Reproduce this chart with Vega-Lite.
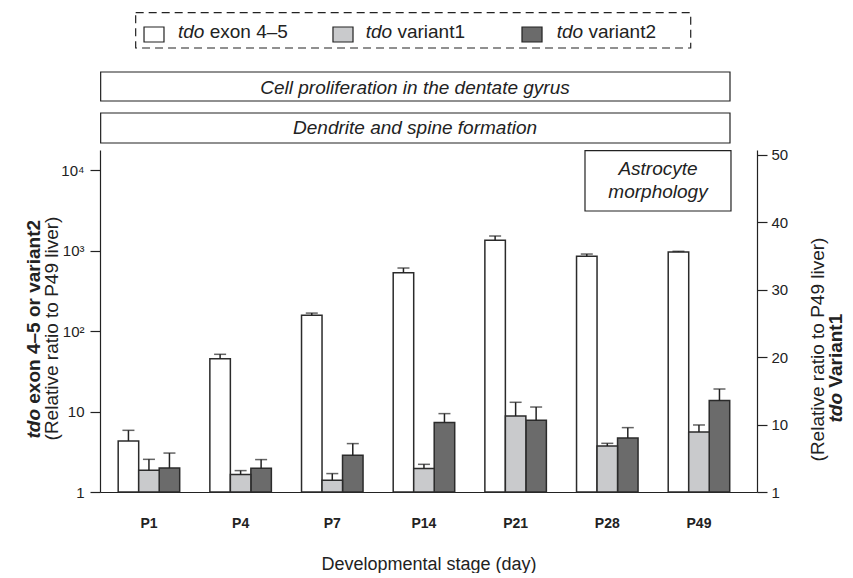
{
  "$schema": "https://vega.github.io/schema/vega-lite/v6.json",
  "autosize": {"type": "pad"},
  "padding": {"left": 23, "top": 10, "right": 0, "bottom": 0},
  "config": {"view": {"stroke": null}, "font": "Liberation Sans"},
  "spacing": 5,
  "bounds": "flush",
  "datasets": {
    "expr": [
      {"stage": "P1", "series": "tdo exon 4–5", "value": 4.31, "upper": 5.85},
      {"stage": "P1", "series": "tdo variant1", "value": 3.21, "upper": 4.84},
      {"stage": "P1", "series": "tdo variant2", "value": 1.99, "upper": 3.05},
      {"stage": "P4", "series": "tdo exon 4–5", "value": 45.6, "upper": 51.6},
      {"stage": "P4", "series": "tdo variant1", "value": 2.58, "upper": 3.17},
      {"stage": "P4", "series": "tdo variant2", "value": 1.97, "upper": 2.53},
      {"stage": "P7", "series": "tdo exon 4–5", "value": 158, "upper": 168},
      {"stage": "P7", "series": "tdo variant1", "value": 1.73, "upper": 2.73},
      {"stage": "P7", "series": "tdo variant2", "value": 2.86, "upper": 4.0},
      {"stage": "P14", "series": "tdo exon 4–5", "value": 535, "upper": 611},
      {"stage": "P14", "series": "tdo variant1", "value": 3.47, "upper": 4.1},
      {"stage": "P14", "series": "tdo variant2", "value": 7.3, "upper": 9.44},
      {"stage": "P21", "series": "tdo exon 4–5", "value": 1351, "upper": 1528},
      {"stage": "P21", "series": "tdo variant1", "value": 11.26, "upper": 13.29},
      {"stage": "P21", "series": "tdo variant2", "value": 7.79, "upper": 11.4},
      {"stage": "P28", "series": "tdo exon 4–5", "value": 855, "upper": 912},
      {"stage": "P28", "series": "tdo variant1", "value": 6.81, "upper": 7.21},
      {"stage": "P28", "series": "tdo variant2", "value": 4.69, "upper": 6.32},
      {"stage": "P49", "series": "tdo exon 4–5", "value": 966, "upper": 986},
      {"stage": "P49", "series": "tdo variant1", "value": 8.89, "upper": 9.93},
      {"stage": "P49", "series": "tdo variant2", "value": 13.7, "upper": 19.1}
    ],
    "legendBox": [{"x1": 0.0543, "x2": 0.8991, "y1": 0.02, "y2": 0.2815}],
    "legend": [
      {"series": "tdo exon 4–5", "rest": "exon 4–5", "sx1": 0.067, "sx2": 0.0974, "sy1": 0.1259, "sy2": 0.237, "tx": 0.1187, "ty": 0.2111},
      {"series": "tdo variant1", "rest": "variant1", "sx1": 0.3546, "sx2": 0.3851, "sy1": 0.1259, "sy2": 0.237, "tx": 0.4044, "ty": 0.2111},
      {"series": "tdo variant2", "rest": "variant2", "sx1": 0.6423, "sx2": 0.6728, "sy1": 0.1259, "sy2": 0.237, "tx": 0.6951, "ty": 0.2111}
    ],
    "boxes": [
      {"label": "Cell proliferation in the dentate gyrus", "x1": 0.001, "x2": 0.9589, "y1": 0.4593, "y2": 0.6741, "tx": 0.4795, "ty": 0.6222},
      {"label": "Dendrite and spine formation", "x1": 0.001, "x2": 0.9589, "y1": 0.763, "y2": 0.9852, "tx": 0.4795, "ty": 0.9222}
    ],
    "astroBox": [{"x1": 0.7382, "x2": 0.9604, "y1": 0.002, "y2": 0.1784}],
    "astroText": [
      {"t": "Astrocyte", "tx": 0.8493, "ty": 0.0731},
      {"t": "morphology", "tx": 0.8493, "ty": 0.1412}
    ],
    "dummy": [{"v": 0}, {"v": 1}]
  },
  "vconcat": [
    {
      "width": 657,
      "height": 135,
      "layer": [
        {
          "data": {"name": "legendBox"},
          "mark": {"type": "rect", "fill": "transparent", "stroke": "#222", "strokeWidth": 1.2, "strokeDash": [8, 5]},
          "encoding": {
            "x": {"field": "x1", "type": "quantitative", "scale": {"domain": [0, 1]}, "axis": null},
            "x2": {"field": "x2"},
            "y": {"field": "y1", "type": "quantitative", "scale": {"domain": [0, 1], "reverse": true}, "axis": null},
            "y2": {"field": "y2"}
          }
        },
        {
          "data": {"name": "legend"},
          "mark": {"type": "rect", "stroke": "#222", "strokeWidth": 1.2},
          "encoding": {
            "x": {"field": "sx1", "type": "quantitative", "scale": {"domain": [0, 1]}, "axis": null},
            "x2": {"field": "sx2"},
            "y": {"field": "sy1", "type": "quantitative", "scale": {"domain": [0, 1], "reverse": true}, "axis": null},
            "y2": {"field": "sy2"},
            "fill": {"field": "series", "type": "nominal", "scale": {"domain": ["tdo exon 4–5", "tdo variant1", "tdo variant2"], "range": ["#ffffff", "#c9cacc", "#6b6b6b"]}, "legend": null}
          }
        },
        {
          "data": {"name": "legend"},
          "mark": {"type": "text", "text": "tdo", "fontStyle": "italic", "fontSize": 19, "align": "left", "baseline": "alphabetic", "color": "#222"},
          "encoding": {
            "x": {"field": "tx", "type": "quantitative", "scale": {"domain": [0, 1]}, "axis": null},
            "y": {"field": "ty", "type": "quantitative", "scale": {"domain": [0, 1], "reverse": true}, "axis": null}
          }
        },
        {
          "data": {"name": "legend"},
          "mark": {"type": "text", "fontSize": 19, "align": "left", "baseline": "alphabetic", "dx": 31.7, "color": "#222"},
          "encoding": {
            "x": {"field": "tx", "type": "quantitative", "scale": {"domain": [0, 1]}, "axis": null},
            "y": {"field": "ty", "type": "quantitative", "scale": {"domain": [0, 1], "reverse": true}, "axis": null},
            "text": {"field": "rest"}
          }
        },
        {
          "data": {"name": "boxes"},
          "mark": {"type": "rect", "fill": "#ffffff", "stroke": "#222", "strokeWidth": 1.2},
          "encoding": {
            "x": {"field": "x1", "type": "quantitative", "scale": {"domain": [0, 1]}, "axis": null},
            "x2": {"field": "x2"},
            "y": {"field": "y1", "type": "quantitative", "scale": {"domain": [0, 1], "reverse": true}, "axis": null},
            "y2": {"field": "y2"}
          }
        },
        {
          "data": {"name": "boxes"},
          "mark": {"type": "text", "fontStyle": "italic", "fontSize": 19, "align": "center", "baseline": "alphabetic", "color": "#222"},
          "encoding": {
            "x": {"field": "tx", "type": "quantitative", "scale": {"domain": [0, 1]}, "axis": null},
            "y": {"field": "ty", "type": "quantitative", "scale": {"domain": [0, 1], "reverse": true}, "axis": null},
            "text": {"field": "label"}
          }
        }
      ]
    },
    {
      "width": 657,
      "height": 342,
      "layer": [
        {
          "data": {"name": "expr"},
          "transform": [{"filter": "datum.series != 'tdo variant1'"}],
          "encoding": {
            "x": {
              "field": "stage", "type": "nominal",
              "sort": ["P1", "P4", "P7", "P14", "P21", "P28", "P49"],
              "scale": {"domain": ["P1", "P4", "P7", "P14", "P21", "P28", "P49"], "paddingInner": 0.329, "paddingOuter": 0.248, "align": 0.4},
              "axis": {"orient": "bottom", "ticks": false, "tickSize": 0, "labelPadding": 24, "labelAngle": 0, "labelFontSize": 14, "labelFontWeight": "bold", "labelColor": "#222", "domainColor": "#222", "domainWidth": 1.2, "title": "Developmental stage (day)", "titleFontSize": 18, "titleFontWeight": "normal", "titleColor": "#222", "titlePadding": 25}
            },
            "xOffset": {"field": "series", "type": "nominal", "scale": {"domain": ["tdo exon 4–5", "tdo variant1", "tdo variant2"], "paddingInner": 0, "paddingOuter": 0}},
            "y": {
              "field": "value", "type": "quantitative",
              "scale": {"type": "log", "domain": [1, 17950], "nice": false},
              "axis": {"orient": "left", "values": [1, 10, 100, 1000, 10000], "labelExpr": "datum.value == 1 ? '1' : datum.value == 10 ? '10' : datum.value == 100 ? '10²' : datum.value == 1000 ? '10³' : '10⁴'", "tickSize": 10, "labelPadding": 6, "labelFontSize": 15, "labelColor": "#222", "domainColor": "#222", "tickColor": "#222", "domainWidth": 1.2, "tickWidth": 1.2, "grid": false, "title": "(Relative ratio to P49 liver)", "titleFontSize": 19, "titleFontWeight": "normal", "titleColor": "#222", "titlePadding": -1, "titleY": 178}
            }
          },
          "layer": [
            {
              "mark": {"type": "bar", "stroke": "#2b2b2b", "strokeWidth": 1.5},
              "encoding": {
                "y2": {"datum": 1},
                "fill": {"field": "series", "type": "nominal", "scale": {"domain": ["tdo exon 4–5", "tdo variant1", "tdo variant2"], "range": ["#ffffff", "#c9cacc", "#6b6b6b"]}, "legend": null}
              }
            },
            {
              "mark": {"type": "rule", "color": "#222", "strokeWidth": 1.5},
              "encoding": {
                "y2": {"field": "upper"}
              }
            },
            {
              "mark": {"type": "tick", "color": "#222", "thickness": 1.5, "size": 12},
              "encoding": {
                "y": {
                  "field": "upper", "type": "quantitative",
                  "scale": {"type": "log", "domain": [1, 17950], "nice": false},
                  "axis": {"orient": "left", "values": [1, 10, 100, 1000, 10000], "labelExpr": "datum.value == 1 ? '1' : datum.value == 10 ? '10' : datum.value == 100 ? '10²' : datum.value == 1000 ? '10³' : '10⁴'", "tickSize": 10, "labelPadding": 6, "labelFontSize": 15, "labelColor": "#222", "domainColor": "#222", "tickColor": "#222", "domainWidth": 1.2, "tickWidth": 1.2, "grid": false, "title": "(Relative ratio to P49 liver)", "titleFontSize": 19, "titleFontWeight": "normal", "titleColor": "#222", "titlePadding": -1, "titleY": 178}
                }
              }
            }
          ]
        },
        {
          "data": {"name": "expr"},
          "transform": [{"filter": "datum.series == 'tdo variant1'"}],
          "encoding": {
            "x": {
              "field": "stage", "type": "nominal",
              "sort": ["P1", "P4", "P7", "P14", "P21", "P28", "P49"],
              "scale": {"domain": ["P1", "P4", "P7", "P14", "P21", "P28", "P49"], "paddingInner": 0.329, "paddingOuter": 0.248, "align": 0.4},
              "axis": null
            },
            "xOffset": {"field": "series", "type": "nominal", "scale": {"domain": ["tdo exon 4–5", "tdo variant1", "tdo variant2"], "paddingInner": 0, "paddingOuter": 0}},
            "y": {
              "field": "value", "type": "quantitative",
              "scale": {"domain": [0, 50.67], "nice": false},
              "axis": {"orient": "right", "values": [0, 10, 20, 30, 40, 50], "labelExpr": "datum.value == 0 ? '1' : datum.label", "tickSize": 10, "labelPadding": 4, "labelFontSize": 15, "labelColor": "#222", "domainColor": "#222", "tickColor": "#222", "domainWidth": 1.2, "tickWidth": 1.2, "grid": false, "title": "(Relative ratio to P49 liver)", "titleFontSize": 19, "titleFontWeight": "normal", "titleColor": "#222", "titleAngle": 270, "titleBaseline": "top", "titlePadding": 21, "titleY": 199}
            }
          },
          "layer": [
            {
              "mark": {"type": "bar", "stroke": "#2b2b2b", "strokeWidth": 1.5},
              "encoding": {
                "fill": {"field": "series", "type": "nominal", "scale": {"domain": ["tdo exon 4–5", "tdo variant1", "tdo variant2"], "range": ["#ffffff", "#c9cacc", "#6b6b6b"]}, "legend": null}
              }
            },
            {
              "mark": {"type": "rule", "color": "#222", "strokeWidth": 1.5},
              "encoding": {
                "y2": {"field": "upper"}
              }
            },
            {
              "mark": {"type": "tick", "color": "#222", "thickness": 1.5, "size": 12},
              "encoding": {
                "y": {
                  "field": "upper", "type": "quantitative",
                  "scale": {"domain": [0, 50.67], "nice": false},
                  "axis": {"orient": "right", "values": [0, 10, 20, 30, 40, 50], "labelExpr": "datum.value == 0 ? '1' : datum.label", "tickSize": 10, "labelPadding": 4, "labelFontSize": 15, "labelColor": "#222", "domainColor": "#222", "tickColor": "#222", "domainWidth": 1.2, "tickWidth": 1.2, "grid": false, "title": "(Relative ratio to P49 liver)", "titleFontSize": 19, "titleFontWeight": "normal", "titleColor": "#222", "titleAngle": 270, "titleBaseline": "top", "titlePadding": 21, "titleY": 199}
                }
              }
            }
          ]
        },
        {
          "layer": [
            {
              "data": {"name": "astroBox"},
              "mark": {"type": "rect", "fill": "#ffffff", "stroke": "#222", "strokeWidth": 1.2},
              "encoding": {
                "x": {"field": "x1", "type": "quantitative", "scale": {"domain": [0, 1]}, "axis": null},
                "x2": {"field": "x2"},
                "y": {"field": "y1", "type": "quantitative", "scale": {"domain": [0, 1], "reverse": true}, "axis": null},
                "y2": {"field": "y2"}
              }
            },
            {
              "data": {"name": "astroText"},
              "mark": {"type": "text", "fontStyle": "italic", "fontSize": 19, "align": "center", "baseline": "alphabetic", "color": "#222"},
              "encoding": {
                "x": {"field": "tx", "type": "quantitative", "scale": {"domain": [0, 1]}, "axis": null},
                "y": {"field": "ty", "type": "quantitative", "scale": {"domain": [0, 1], "reverse": true}, "axis": null},
                "text": {"field": "t"}
              }
            }
          ]
        },
        {
          "data": {"name": "dummy"},
          "mark": {"type": "point", "opacity": 0},
          "encoding": {
            "y": {"field": "v", "type": "quantitative", "scale": {"domain": [0, 1]}, "axis": {"orient": "left", "labels": false, "ticks": false, "domain": false, "grid": false, "title": "tdo", "titleFontSize": 19, "titleFontWeight": "bold", "titleFontStyle": "italic", "titleColor": "#222", "titleAlign": "left", "titleAngle": 270, "titleY": 288, "titlePadding": 57}}
          }
        },
        {
          "data": {"name": "dummy"},
          "mark": {"type": "point", "opacity": 0},
          "encoding": {
            "y": {"field": "v", "type": "quantitative", "scale": {"domain": [0, 1]}, "axis": {"orient": "left", "labels": false, "ticks": false, "domain": false, "grid": false, "title": "exon 4–5 or variant2", "titleFontSize": 19, "titleFontWeight": "bold", "titleColor": "#222", "titleAlign": "left", "titleAngle": 270, "titleY": 253.2, "titlePadding": 57}}
          }
        },
        {
          "data": {"name": "dummy"},
          "mark": {"type": "point", "opacity": 0},
          "encoding": {
            "y": {"field": "v", "type": "quantitative", "scale": {"domain": [0, 1]}, "axis": {"orient": "right", "labels": false, "ticks": false, "domain": false, "grid": false, "title": "tdo", "titleFontSize": 19, "titleFontWeight": "bold", "titleFontStyle": "italic", "titleColor": "#222", "titleAlign": "left", "titleAngle": 270, "titleBaseline": "top", "titleY": 272, "titlePadding": 69}}
          }
        },
        {
          "data": {"name": "dummy"},
          "mark": {"type": "point", "opacity": 0},
          "encoding": {
            "y": {"field": "v", "type": "quantitative", "scale": {"domain": [0, 1]}, "axis": {"orient": "right", "labels": false, "ticks": false, "domain": false, "grid": false, "title": "Variant1", "titleFontSize": 19, "titleFontWeight": "bold", "titleColor": "#222", "titleAlign": "left", "titleAngle": 270, "titleBaseline": "top", "titleY": 237.2, "titlePadding": 69}}
          }
        }
      ],
      "resolve": {"scale": {"x": "independent", "y": "independent"}}
    }
  ]
}
